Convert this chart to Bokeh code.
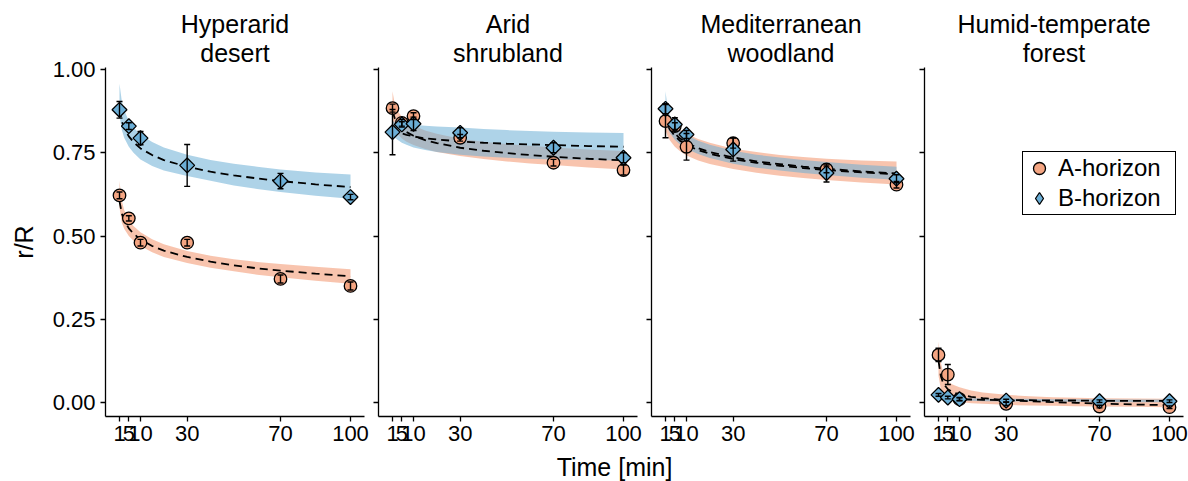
import numpy as np
from bokeh.plotting import figure
from bokeh.layouts import row, column
from bokeh.models import (Range1d, FixedTicker, Whisker, TeeHead, ColumnDataSource,
                          Legend, LegendItem, Label, NumeralTickFormatter, Title)
from bokeh.embed import file_html
from bokeh.resources import INLINE

# ---------------- data ----------------
TIMES = [1, 5, 10, 30, 70, 100]
FIT_TIMES = [1, 2, 3, 5, 7, 10, 15, 20, 30, 40, 50, 60, 70, 85, 100]
X_TICKS = [1, 5, 10, 30, 70, 100]
Y_TICKS = [0.0, 0.25, 0.5, 0.75, 1.0]
PANEL_TITLES = [("Hyperarid", "desert"), ("Arid", "shrubland"),
                ("Mediterranean", "woodland"), ("Humid-temperate", "forest")]
SERIES = ["A-horizon", "B-horizon"]

# Hyperarid desert
DES_A_MEAN = [0.622, 0.553, 0.480, 0.480, 0.371, 0.350]
DES_A_ERR = [0.010, 0.008, 0.010, 0.010, 0.012, 0.012]
DES_B_MEAN = [0.879, 0.830, 0.794, 0.712, 0.665, 0.617]
DES_B_ERR = [0.025, 0.010, 0.020, 0.063, 0.023, 0.008]
DES_A_FIT = [0.605, 0.567, 0.547, 0.523, 0.507, 0.490, 0.470, 0.456, 0.437, 0.423, 0.412, 0.403, 0.396, 0.387, 0.379]
DES_A_LO = [0.585, 0.540, 0.522, 0.500, 0.486, 0.470, 0.451, 0.437, 0.419, 0.405, 0.394, 0.384, 0.376, 0.366, 0.357]
DES_A_HI = [0.665, 0.605, 0.578, 0.548, 0.530, 0.511, 0.490, 0.475, 0.455, 0.441, 0.430, 0.422, 0.416, 0.408, 0.400]
DES_B_FIT = [0.880, 0.845, 0.824, 0.799, 0.782, 0.763, 0.743, 0.728, 0.708, 0.693, 0.682, 0.673, 0.665, 0.655, 0.647]
DES_B_LO = [0.862, 0.818, 0.795, 0.768, 0.750, 0.730, 0.710, 0.697, 0.680, 0.666, 0.652, 0.641, 0.632, 0.621, 0.612]
DES_B_HI = [0.957, 0.905, 0.878, 0.846, 0.826, 0.805, 0.782, 0.766, 0.744, 0.728, 0.717, 0.708, 0.700, 0.691, 0.685]

# Arid shrubland
ARI_A_MEAN = [0.884, 0.840, 0.860, 0.795, 0.720, 0.698]
ARI_A_ERR = [0.012, 0.010, 0.010, 0.010, 0.010, 0.015]
ARI_B_MEAN = [0.812, 0.835, 0.837, 0.810, 0.765, 0.735]
ARI_B_ERR = [0.068, 0.008, 0.020, 0.015, 0.015, 0.015]
ARI_A_FIT = [0.875, 0.853, 0.840, 0.823, 0.812, 0.801, 0.788, 0.779, 0.765, 0.756, 0.749, 0.743, 0.738, 0.732, 0.727]
ARI_A_LO = [0.835, 0.818, 0.808, 0.793, 0.783, 0.773, 0.761, 0.752, 0.740, 0.731, 0.724, 0.718, 0.713, 0.706, 0.700]
ARI_A_HI = [0.935, 0.895, 0.878, 0.858, 0.845, 0.832, 0.817, 0.807, 0.792, 0.783, 0.776, 0.771, 0.766, 0.760, 0.755]
ARI_B_FIT = [0.830, 0.821, 0.815, 0.808, 0.804, 0.799, 0.793, 0.790, 0.784, 0.780, 0.777, 0.775, 0.773, 0.770, 0.768]
ARI_B_LO = [0.800, 0.795, 0.790, 0.780, 0.774, 0.766, 0.758, 0.752, 0.744, 0.739, 0.735, 0.732, 0.730, 0.728, 0.727]
ARI_B_HI = [0.845, 0.842, 0.840, 0.838, 0.836, 0.834, 0.831, 0.829, 0.826, 0.821, 0.818, 0.815, 0.813, 0.811, 0.809]

# Mediterranean woodland
MED_A_MEAN = [0.845, 0.830, 0.768, 0.779, 0.700, 0.654]
MED_A_ERR = [0.050, 0.010, 0.040, 0.015, 0.010, 0.010]
MED_B_MEAN = [0.882, 0.835, 0.805, 0.760, 0.689, 0.672]
MED_B_ERR = [0.015, 0.020, 0.012, 0.035, 0.027, 0.012]
MED_A_FIT = [0.862, 0.835, 0.820, 0.800, 0.787, 0.773, 0.758, 0.747, 0.731, 0.720, 0.711, 0.704, 0.698, 0.691, 0.685]
MED_A_LO = [0.817, 0.798, 0.786, 0.768, 0.756, 0.742, 0.727, 0.716, 0.701, 0.690, 0.681, 0.674, 0.668, 0.661, 0.655]
MED_A_HI = [0.900, 0.872, 0.856, 0.835, 0.822, 0.807, 0.791, 0.780, 0.762, 0.752, 0.743, 0.737, 0.732, 0.727, 0.724]
MED_B_FIT = [0.872, 0.844, 0.828, 0.808, 0.794, 0.780, 0.764, 0.752, 0.736, 0.724, 0.716, 0.708, 0.702, 0.694, 0.688]
MED_B_LO = [0.845, 0.822, 0.808, 0.789, 0.776, 0.762, 0.746, 0.734, 0.717, 0.705, 0.697, 0.689, 0.683, 0.675, 0.669]
MED_B_HI = [0.935, 0.880, 0.860, 0.836, 0.820, 0.804, 0.786, 0.774, 0.756, 0.744, 0.736, 0.728, 0.722, 0.714, 0.708]

# Humid-temperate forest
FOR_A_MEAN = [0.143, 0.084, 0.010, -0.004, -0.012, -0.014]
FOR_A_ERR = [0.020, 0.030, 0.005, 0.005, 0.004, 0.004]
FOR_B_MEAN = [0.023, 0.015, 0.010, 0.006, 0.004, 0.004]
FOR_B_ERR = [0.004, 0.004, 0.004, 0.004, 0.004, 0.004]
FOR_A_FIT = [0.125, 0.080, 0.058, 0.040, 0.031, 0.024, 0.017, 0.013, 0.007, 0.004, 0.001, -0.001, -0.003, -0.006, -0.008]
FOR_A_LO = [0.080, 0.040, 0.025, 0.012, 0.007, 0.002, -0.002, -0.004, -0.007, -0.009, -0.010, -0.011, -0.012, -0.013, -0.014]
FOR_A_HI = [0.183, 0.120, 0.090, 0.063, 0.054, 0.046, 0.036, 0.030, 0.023, 0.019, 0.016, 0.014, 0.013, 0.012, 0.011]
FOR_B_FIT = [0.020, 0.016, 0.014, 0.012, 0.011, 0.010, 0.009, 0.008, 0.007, 0.007, 0.006, 0.006, 0.005, 0.005, 0.005]
FOR_B_LO = [0.010, 0.010, 0.009, 0.008, 0.007, 0.006, 0.005, 0.004, 0.003, 0.003, 0.002, 0.002, 0.001, 0.001, 0.001]
FOR_B_HI = [0.030, 0.022, 0.019, 0.016, 0.015, 0.014, 0.013, 0.012, 0.011, 0.011, 0.010, 0.010, 0.010, 0.009, 0.009]

# ---------------- style ----------------
FONT = "Liberation Sans"
A_COLOR = "#F4A582"
B_COLOR = "#6BAED6"

PANELS = [
    dict(title=PANEL_TITLES[0],
         A=(DES_A_MEAN, DES_A_ERR, DES_A_FIT, DES_A_LO, DES_A_HI),
         B=(DES_B_MEAN, DES_B_ERR, DES_B_FIT, DES_B_LO, DES_B_HI)),
    dict(title=PANEL_TITLES[1],
         A=(ARI_A_MEAN, ARI_A_ERR, ARI_A_FIT, ARI_A_LO, ARI_A_HI),
         B=(ARI_B_MEAN, ARI_B_ERR, ARI_B_FIT, ARI_B_LO, ARI_B_HI)),
    dict(title=PANEL_TITLES[2],
         A=(MED_A_MEAN, MED_A_ERR, MED_A_FIT, MED_A_LO, MED_A_HI),
         B=(MED_B_MEAN, MED_B_ERR, MED_B_FIT, MED_B_LO, MED_B_HI)),
    dict(title=PANEL_TITLES[3],
         A=(FOR_A_MEAN, FOR_A_ERR, FOR_A_FIT, FOR_A_LO, FOR_A_HI),
         B=(FOR_B_MEAN, FOR_B_ERR, FOR_B_FIT, FOR_B_LO, FOR_B_HI)),
]


def style_axis(ax):
    ax.axis_line_color = "black"
    ax.axis_line_width = 1.3
    ax.major_tick_line_color = "black"
    ax.major_tick_line_width = 1.3
    ax.major_tick_out = 5
    ax.major_tick_in = 0
    ax.minor_tick_out = 0
    ax.minor_tick_in = 0
    ax.major_label_text_font = FONT
    ax.major_label_text_font_size = "22px"
    ax.major_label_text_color = "black"


def title_line(text, standoff):
    return Title(text=text, align="center", text_font=FONT, text_font_size="25px",
                 text_font_style="normal", text_color="black", standoff=standoff)


def make_panel(i, spec):
    first = i == 0
    last = i == len(PANELS) - 1
    p = figure(frame_width=259, frame_height=349,
               x_range=Range1d(-5, 106), y_range=Range1d(-0.042, 1.006),
               output_backend="svg", toolbar_location=None,
               min_border_left=105 if first else 7,
               min_border_right=5 if last else 7,
               min_border_top=67, min_border_bottom=35,
               outline_line_color=None, background_fill_color="white",
               border_fill_color="white")
    p.title = None
    line1, line2 = spec["title"]
    p.add_layout(title_line(line2, 2), "above")
    p.add_layout(title_line(line1, -5), "above")
    p.xgrid.visible = False
    p.ygrid.visible = False

    style_axis(p.xaxis[0])
    style_axis(p.yaxis[0])
    p.xaxis.ticker = FixedTicker(ticks=X_TICKS)
    p.xaxis.major_label_overrides = {t: str(t) for t in X_TICKS}
    p.xaxis.major_label_standoff = 4
    p.yaxis.ticker = FixedTicker(ticks=Y_TICKS)
    p.yaxis.formatter = NumeralTickFormatter(format="0.00")
    p.yaxis.major_label_standoff = 5
    if first:
        p.yaxis.axis_label = "r/R"
        p.yaxis.axis_label_text_font = FONT
        p.yaxis.axis_label_text_font_size = "25px"
        p.yaxis.axis_label_text_font_style = "normal"
        p.yaxis.axis_label_text_color = "black"
        p.yaxis.axis_label_standoff = 12
    else:
        p.yaxis.major_label_text_font_size = "0px"
        p.yaxis.major_label_standoff = 0
        p.yaxis.major_label_overrides = {t: "" for t in Y_TICKS}

    a_mean, a_err, a_fit, a_lo, a_hi = spec["A"]
    b_mean, b_err, b_fit, b_lo, b_hi = spec["B"]

    # ribbons
    p.varea(x=FIT_TIMES, y1=a_lo, y2=a_hi, fill_color=A_COLOR, fill_alpha=0.65)
    p.varea(x=FIT_TIMES, y1=b_lo, y2=b_hi, fill_color=B_COLOR, fill_alpha=0.55)
    # fitted lines
    p.line(FIT_TIMES, a_fit, line_color="black", line_width=1.8, line_dash="8 5")
    p.line(FIT_TIMES, b_fit, line_color="black", line_width=1.8, line_dash="8 5")
    # points
    ra = p.scatter(TIMES, a_mean, marker="circle", size=12.5, fill_color=A_COLOR,
                   line_color="black", line_width=1.3)
    # narrow diamonds (used as the legend key), fully covered by the square diamonds
    rb_key = p.scatter(TIMES, b_mean, marker="diamond", size=13, fill_color=B_COLOR,
                       line_color="black", line_width=1.3)
    p.scatter(TIMES, b_mean, marker="square", angle=np.pi / 4, size=10.5,
              fill_color=B_COLOR, line_color="black", line_width=1.3)
    # error bars
    for mean, err in ((a_mean, a_err), (b_mean, b_err)):
        src = ColumnDataSource(dict(base=TIMES,
                                    lower=[m - e for m, e in zip(mean, err)],
                                    upper=[m + e for m, e in zip(mean, err)]))
        w = Whisker(source=src, base="base", lower="lower", upper="upper",
                    dimension="height", line_color="black", line_width=1.4,
                    upper_head=TeeHead(size=6, line_color="black", line_width=1.4),
                    lower_head=TeeHead(size=6, line_color="black", line_width=1.4),
                    level="overlay")
        p.add_layout(w)

    if last:
        legend = Legend(items=[LegendItem(label=SERIES[0], renderers=[ra]),
                               LegendItem(label=SERIES[1], renderers=[rb_key])],
                        location=(98, 201), border_line_color="black",
                        border_line_width=1.5, border_line_alpha=1.0,
                        label_text_font=FONT, label_text_font_size="24px",
                        label_text_color="black",
                        padding=1, spacing=0, glyph_width=30, glyph_height=30,
                        label_standoff=4, label_width=116, margin=0,
                        background_fill_color="white", background_fill_alpha=1.0)
        p.add_layout(legend)
    return p


panels = [make_panel(i, s) for i, s in enumerate(PANELS)]

xlab = figure(width=1188, height=30, output_backend="svg", toolbar_location=None,
              x_range=Range1d(0, 1), y_range=Range1d(0, 1),
              x_axis_type=None, y_axis_type=None, min_border=0,
              outline_line_color=None, border_fill_color="white")
xlab.grid.visible = False
xlab.add_layout(Label(x=614, y=15, x_units="screen", y_units="screen",
                      text="Time [min]", text_align="center", text_baseline="middle",
                      text_font=FONT, text_font_size="25px", text_color="black"))

layout = column(row(*panels, spacing=0), xlab, spacing=0)

open("out.html", "w").write(file_html(layout, INLINE))
